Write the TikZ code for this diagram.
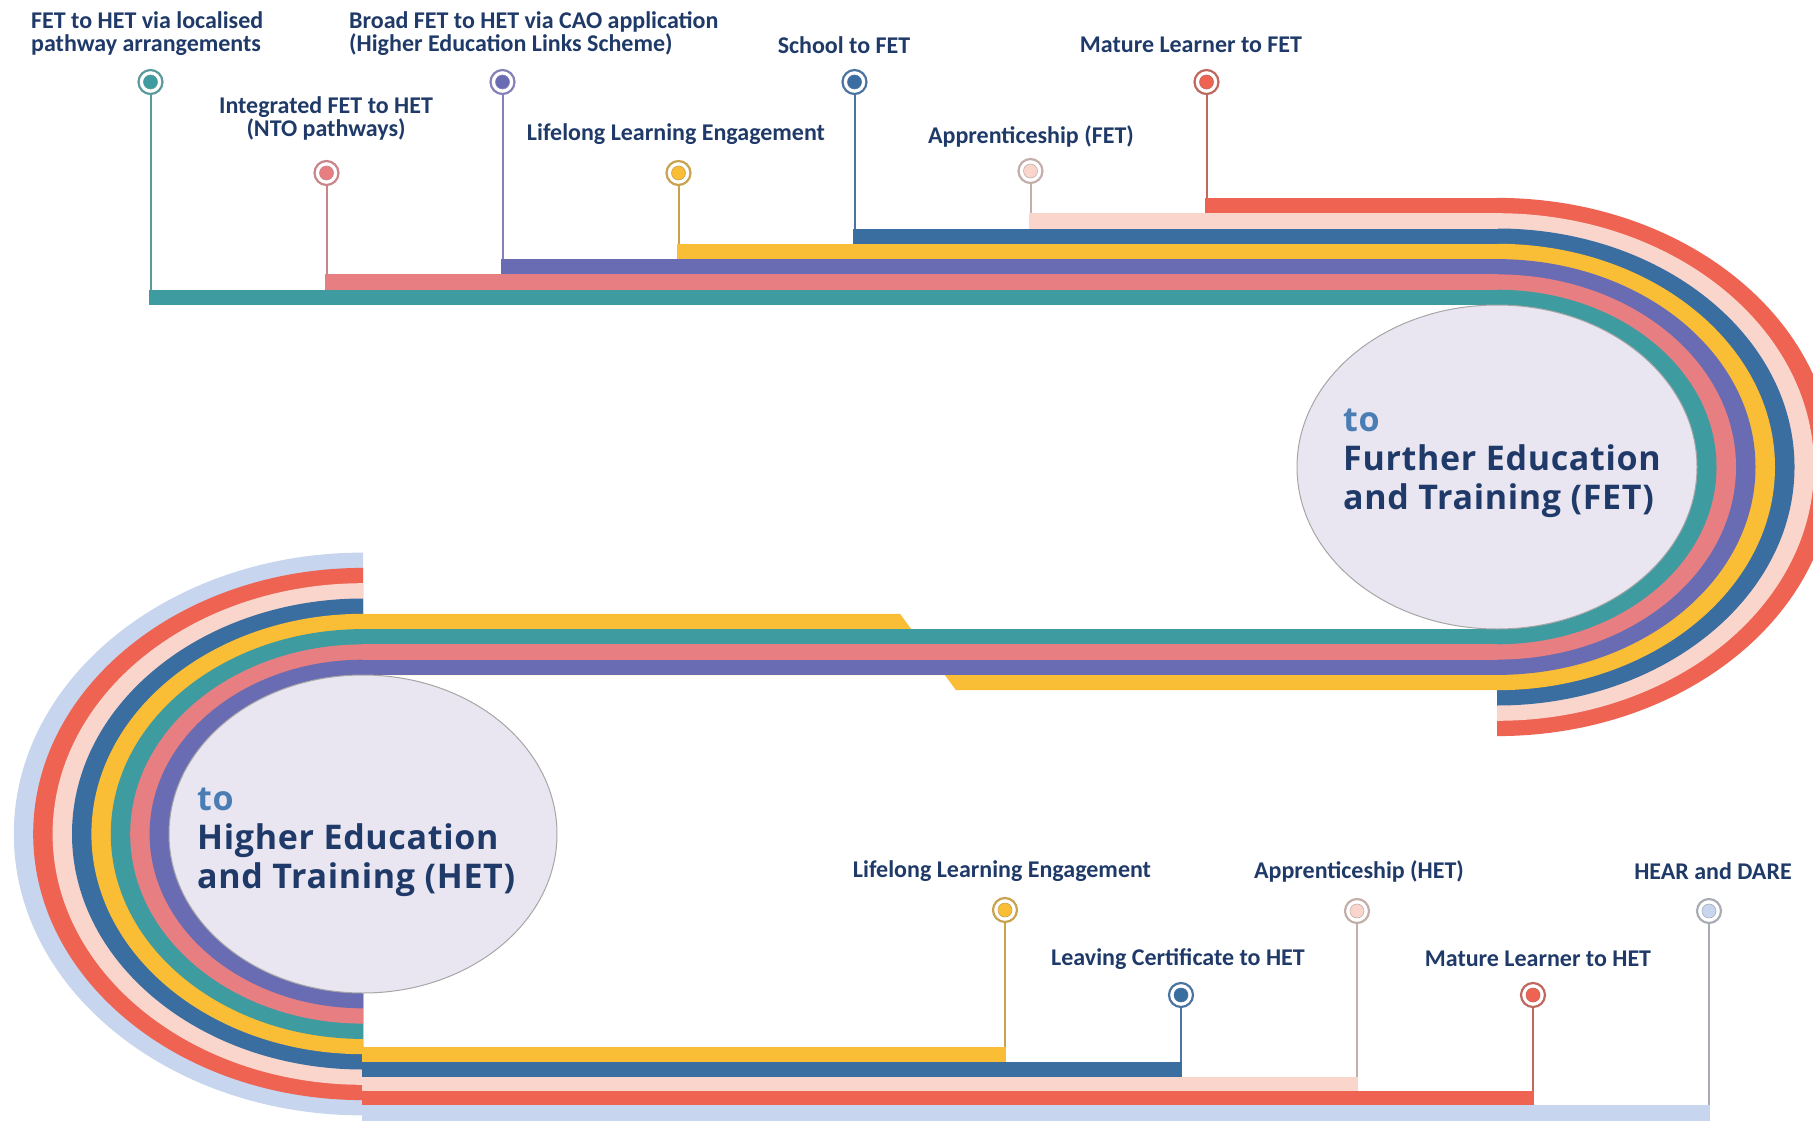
\documentclass[tikz,border=0pt]{standalone}
\usepackage{fontspec}
\usetikzlibrary{shapes.geometric}
\newfontfamily\lblfont{Carlito}
\newfontfamily\ttlfont[LetterSpace=2]{Open Sans}
\definecolor{cteal}{HTML}{3E9BA0}
\definecolor{csalmon}{HTML}{E67E82}
\definecolor{cpurple}{HTML}{6A6CB3}
\definecolor{cyellow}{HTML}{F9BD36}
\definecolor{cblue}{HTML}{3A6EA0}
\definecolor{clpink}{HTML}{FAD5CC}
\definecolor{cred}{HTML}{EE6352}
\definecolor{clblue}{HTML}{C7D5EF}
\definecolor{sTeal}{HTML}{5A9A9C}
\definecolor{sSalmon}{HTML}{C98589}
\definecolor{sPurple}{HTML}{8580B8}
\definecolor{sYellow}{HTML}{C9A24E}
\definecolor{sBlue}{HTML}{4B75A0}
\definecolor{sLpink}{HTML}{C4AEAA}
\definecolor{sRed}{HTML}{C0675E}
\definecolor{sLblue}{HTML}{A8ADB5}
\definecolor{lav}{HTML}{E9E6F1}
\definecolor{navy}{HTML}{1F3A68}
\definecolor{tocol}{HTML}{4A7DB3}
\begin{document}
\begin{tikzpicture}[x=1pt,y=-1pt,
  pindot/.style 2 args={circle, minimum size=24pt, inner sep=0pt, fill=white, draw=#1, line width=2.2pt,
    path picture={\filldraw[fill=#2, draw=#1, line width=0.6pt] (path picture bounding box.center) circle (7pt);}},
  stemline/.style={draw=#1, line width=2pt},
  lbl/.style={font=\lblfont\bfseries\fontsize{24}{23}\selectfont, text=navy, inner sep=0pt, align=center},
  ttl/.style={font=\ttlfont\bfseries\fontsize{34}{39}\selectfont, text=navy, inner sep=0pt, align=left, anchor=west},
  hub/.style={ellipse, fill=lav, draw=gray!70, line width=1pt, inner sep=0pt}]
\useasboundingbox (0,0) rectangle (1813,1121);
\clip (0,0) rectangle (1813,1121);

% ---------- right loop ----------
\begin{scope}
  \clip (1497,0) rectangle (1813,1121);
  \foreach \c/\i in {cred/7,clpink/6,cblue/5,cyellow/4,cpurple/3,csalmon/2,cteal/1}{
    \fill[\c] (1497,467) ellipse [x radius={200pt+19.5pt*\i}, y radius={162pt+15.3pt*\i}];
  }
\end{scope}
% ---------- left loop ----------
\begin{scope}
  \clip (0,0) rectangle (363,1121);
  \foreach \c/\i in {clblue/8,cred/7,clpink/6,cblue/5,cyellow/4,cteal/3,csalmon/2,cpurple/1}{
    \fill[\c] (363,834) ellipse [x radius={194pt+19.4pt*\i}, y radius={159pt+15.3pt*\i}];
  }
\end{scope}

% ---------- top straight bands ----------
\fill[cred]    (1205,197.9) rectangle (1498,213.4);
\fill[clpink]  (1029,213.2) rectangle (1498,228.7);
\fill[cblue]   (853,228.5)  rectangle (1498,244.0);
\fill[cyellow] (677,243.8)  rectangle (1498,259.3);
\fill[cpurple] (501,259.1)  rectangle (1498,274.6);
\fill[csalmon] (325,274.4)  rectangle (1498,289.9);
\fill[cteal]   (149,289.7)  rectangle (1498,305.0);

% ---------- middle straight bands ----------
\fill[cyellow] (362,613.8) -- (900,613.8) -- (956,690.2) -- (1498,690.2) -- (1498,675) -- (362,675) -- cycle;
\fill[cteal]   (362,629.0) rectangle (1498,644.5);
\fill[csalmon] (362,644.3) rectangle (1498,659.8);
\fill[cpurple] (362,659.6) rectangle (1498,675.0);

% ---------- bottom straight bands ----------
\fill[cyellow] (362,1047.0) rectangle (1006,1062.3);
\fill[cblue]   (362,1062.1) rectangle (1182,1077.3);
\fill[clpink]  (362,1077.1) rectangle (1358,1090.8);
\fill[cred]    (362,1090.6) rectangle (1534,1105.2);
\fill[clblue]  (362,1105.0) rectangle (1710,1121);

% ---------- hubs ----------
\node[hub, minimum width=400pt, minimum height=324pt] (fet) at (1497,467) {};
\node[hub, minimum width=388pt, minimum height=318pt] (het) at (363,834) {};
\node[ttl] (fettxt) at (1343,463) {{\color{tocol}to}\\Further Education\\and Training (FET)};
\node[ttl] (hettxt) at (197,842) {{\color{tocol}to}\\Higher Education\\and Training (HET)};

% ---------- top pins ----------
\coordinate (e1) at (150.5,289.9);
\coordinate (e2) at (326.5,274.6);
\coordinate (e3) at (502.5,259.3);
\coordinate (e4) at (678.5,244.0);
\coordinate (e5) at (854.5,228.7);
\coordinate (e6) at (1030.5,213.4);
\coordinate (e7) at (1206.5,198.1);
\node[pindot={sTeal}{cteal}]     (p1) at (150.5,82) {};
\node[pindot={sSalmon}{csalmon}] (p2) at (326.5,173) {};
\node[pindot={sPurple}{cpurple}] (p3) at (502.5,82) {};
\node[pindot={sYellow}{cyellow}] (p4) at (678.5,173) {};
\node[pindot={sBlue}{cblue}]     (p5) at (854.5,82) {};
\node[pindot={sLpink}{clpink}]   (p6) at (1030.5,171) {};
\node[pindot={sRed}{cred}]       (p7) at (1206.5,82) {};
\draw[stemline=sTeal]   (p1.south) -- (e1);
\draw[stemline=sSalmon] (p2.south) -- (e2);
\draw[stemline=sPurple] (p3.south) -- (e3);
\draw[stemline=sYellow] (p4.south) -- (e4);
\draw[stemline=sBlue]   (p5.south) -- (e5);
\draw[stemline=sLpink]  (p6.south) -- (e6);
\draw[stemline=sRed]    (p7.south) -- (e7);

% ---------- bottom pins ----------
\coordinate (f1) at (1005,1047.2);
\coordinate (f2) at (1181,1062.3);
\coordinate (f3) at (1357,1077.3);
\coordinate (f4) at (1533,1090.8);
\coordinate (f5) at (1709,1105.2);
\node[pindot={sYellow}{cyellow}] (q1) at (1005,910) {};
\node[pindot={sBlue}{cblue}]     (q2) at (1181,995) {};
\node[pindot={sLpink}{clpink}]   (q3) at (1357,911) {};
\node[pindot={sRed}{cred}]       (q4) at (1533,995) {};
\node[pindot={sLblue}{clblue}]   (q5) at (1709,911) {};
\draw[stemline=sYellow] (q1.south) -- (f1);
\draw[stemline=sBlue]   (q2.south) -- (f2);
\draw[stemline=sLpink]  (q3.south) -- (f3);
\draw[stemline=sRed]    (q4.south) -- (f4);
\draw[stemline=sLblue]  (q5.south) -- (f5);

% ---------- labels ----------
\node[lbl, align=left, anchor=west] (t1) at (31,34) {FET to HET via localised\\pathway arrangements};
\node[lbl] (t2) at (326,118) {Integrated FET to HET\\(NTO pathways)};
\node[lbl, align=left, anchor=west] (t3) at (349,34) {Broad FET to HET via CAO application\\(Higher Education Links Scheme)};
\node[lbl] (t4) at (676,134) {Lifelong Learning Engagement};
\node[lbl] (t5) at (844,45) {School to FET};
\node[lbl] (t6) at (1031,136) {Apprenticeship (FET)};
\node[lbl] (t7) at (1191,45) {Mature Learner to FET};
\node[lbl] (b1) at (1002,871) {Lifelong Learning Engagement};
\node[lbl] (b2) at (1178,959) {Leaving Certificate to HET};
\node[lbl] (b3) at (1359,871) {Apprenticeship (HET)};
\node[lbl] (b4) at (1538,959) {Mature Learner to HET};
\node[lbl] (b5) at (1713,871) {HEAR and DARE};
\end{tikzpicture}
\end{document}
